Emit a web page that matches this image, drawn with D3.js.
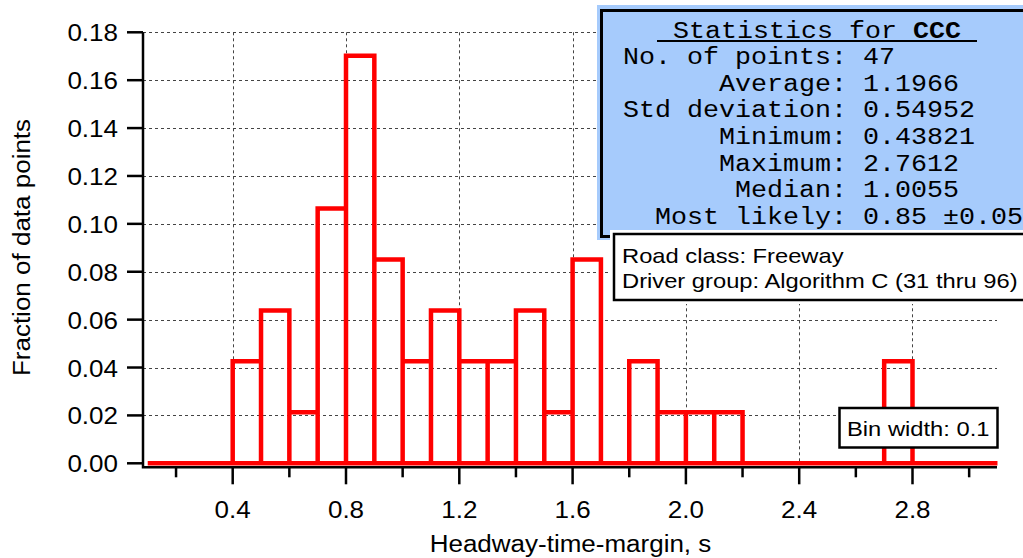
<!DOCTYPE html>
<html><head><meta charset="utf-8">
<script src="https://cdn.jsdelivr.net/npm/d3@7"></script>
<style>
html,body{margin:0;padding:0;background:#fff;}
svg{display:block;}
</style></head>
<body>
<svg id="chart" width="1023" height="558"></svg>
<script>
// ---- data ----
const binLeft = [0.1,0.2,0.3,0.4,0.5,0.6,0.7,0.8,0.9,1.0,1.1,1.2,1.3,1.4,1.5,1.6,1.7,1.8,1.9,2.0,2.1,2.2,2.3,2.4,2.5,2.6,2.7,2.8,2.9,3.0];
const binWidth = 0.1;
const fraction = [0,0,0,0.0426,0.0638,0.0213,0.1064,0.1702,0.0851,0.0426,0.0638,0.0426,0.0426,0.0638,0.0213,0.0851,0,0.0426,0.0213,0.0213,0.0213,0,0,0,0,0,0.0426,0,0,0];
const xTicks = [0.4,0.8,1.2,1.6,2.0,2.4,2.8];
const xMinorTicks = [0.2,0.6,1.0,1.4,1.8,2.2,2.6,3.0];
const yTicks = [0,0.02,0.04,0.06,0.08,0.10,0.12,0.14,0.16,0.18];
const xTitle = "Headway-time-margin, s";
const yTitle = "Fraction of data points";
const statsTitle = "Statistics for ";
const statsName = "CCC";
const statLabels = ["No. of points:","Average:","Std deviation:","Minimum:","Maximum:","Median:","Most likely:"];
const statValues = ["47","1.1966","0.54952","0.43821","2.7612","1.0055","0.85 \u00b10.05"];
const infoLines = ["Road class: Freeway","Driver group: Algorithm C (31 thru 96)"];
const binNote = "Bin width: 0.1";

// ---- setup ----
const svg = d3.select("#chart");
const SANS = "'Liberation Sans', Arial, Helvetica, sans-serif";
const MONO = "'Liberation Mono', 'Courier New', monospace";
const SX = 1.13;
function stretch(sel, k){
  sel.each(function(){
    const L = this.getComputedTextLength();
    d3.select(this).attr("textLength", L*k).attr("lengthAdjust","spacingAndGlyphs");
  });
}

const x = d3.scaleLinear().domain([0, 3.2]).range([119.4, 1025.8]);
const y = d3.scaleLinear().domain([0, 0.18]).range([463.3, 32.3]);
const axL = 143, axR = 997, axB = 467.3;

// grid
const grid = svg.append("g").attr("stroke","#444").attr("stroke-width",1).attr("stroke-dasharray","3,3").attr("fill","none");
grid.selectAll("line.h").data(yTicks.filter(d=>d>0)).join("line")
  .attr("x1",axL).attr("x2",axR).attr("y1",d=>Math.round(y(d))+0.5).attr("y2",d=>Math.round(y(d))+0.5);
grid.selectAll("line.v").data(xTicks).join("line")
  .attr("y1",y(0.18)).attr("y2",y(0)).attr("x1",d=>Math.round(x(d))+0.5).attr("x2",d=>Math.round(x(d))+0.5);

// histogram
let p = d3.path();
binLeft.forEach((b,i)=>{
  const x0 = x(b), x1 = x(b+binWidth), yv = y(fraction[i]);
  p.moveTo(x0, y(0)); p.lineTo(x0, yv); p.lineTo(x1, yv); p.lineTo(x1, y(0));
});
p.moveTo(x(binLeft[0]), y(0)); p.lineTo(x(binLeft[binLeft.length-1]+binWidth), y(0));
svg.append("path").attr("d", p.toString()).attr("fill","none").attr("stroke","#ff0000")
  .attr("stroke-width",4.5).attr("stroke-linejoin","miter");

// axes
const ax = svg.append("g").attr("stroke","#000").attr("stroke-width",2.5).attr("fill","none");
ax.append("path").attr("d",`M${axL},${y(0.18)}V${axB}H${axR}`).attr("stroke-linejoin","miter");
ax.selectAll("line.yt").data(yTicks).join("line")
  .attr("x1",axL-16).attr("x2",axL).attr("y1",d=>y(d)).attr("y2",d=>y(d));
ax.selectAll("line.xt").data(xTicks).join("line")
  .attr("y1",axB).attr("y2",axB+17).attr("x1",d=>x(d)).attr("x2",d=>x(d));
ax.selectAll("line.xm").data(xMinorTicks).join("line")
  .attr("y1",axB).attr("y2",axB+10).attr("x1",d=>x(d)).attr("x2",d=>x(d));

const yl = svg.append("g").selectAll("text").data(yTicks).join("text")
  .attr("x",118).attr("y",d=>y(d)+9).attr("text-anchor","end")
  .attr("font-family",SANS).attr("font-size",23).attr("fill","#000")
  .text(d=>d3.format(".2f")(d));
stretch(yl, SX);
const xl = svg.append("g").selectAll("text").data(xTicks).join("text")
  .attr("x",d=>x(d)).attr("y",518).attr("text-anchor","middle")
  .attr("font-family",SANS).attr("font-size",23).attr("fill","#000")
  .text(d=>d3.format(".1f")(d));
stretch(xl, SX);

const xt = svg.append("text").attr("x",570.5).attr("y",551.5).attr("text-anchor","middle")
  .attr("font-family",SANS).attr("font-size",23).text(xTitle);
stretch(xt, SX);
const yt = svg.append("text").attr("transform","translate(30,247.5) rotate(-90)").attr("text-anchor","middle")
  .attr("font-family",SANS).attr("font-size",23).text(yTitle);
stretch(yt, SX);

// stats box
const sb = svg.append("g");
sb.append("rect").attr("x",597).attr("y",5).attr("width",440).attr("height",235).attr("fill","#a6cbfc");
sb.append("rect").attr("x",601.5).attr("y",10.5).attr("width",440).attr("height",226)
  .attr("fill","none").attr("stroke","#000").attr("stroke-width",3);
const CW = 16;
sb.append("text").attr("x",673).attr("y",37.5).attr("font-family",MONO).attr("font-size",23)
  .attr("textLength",(statsTitle.length-1)*CW).attr("lengthAdjust","spacingAndGlyphs").text(statsTitle.trim());
sb.append("text").attr("x",673+statsTitle.length*CW).attr("y",37.5).attr("font-family",MONO).attr("font-size",23)
  .attr("font-weight","bold").attr("textLength",statsName.length*CW).attr("lengthAdjust","spacingAndGlyphs").text(statsName);
sb.append("line").attr("x1",657).attr("x2",977).attr("y1",41).attr("y2",41).attr("stroke","#000").attr("stroke-width",2);
statLabels.forEach((lab,i)=>{
  const by = 64 + 26.67*i;
  sb.append("text").attr("x",847 - lab.length*CW).attr("y",by).attr("font-family",MONO).attr("font-size",23)
    .attr("textLength",lab.length*CW).attr("lengthAdjust","spacingAndGlyphs").text(lab);
  const v = statValues[i];
  sb.append("text").attr("x",863).attr("y",by).attr("font-family",MONO).attr("font-size",23)
    .attr("textLength",v.length*CW).attr("lengthAdjust","spacingAndGlyphs").text(v);
});

// info box
const ib = svg.append("g");
ib.append("rect").attr("x",610).attr("y",230).attr("width",420).attr("height",74).attr("fill","#fff");
ib.append("rect").attr("x",614).attr("y",234).attr("width",420).attr("height",66)
  .attr("fill","#fff").attr("stroke","#000").attr("stroke-width",2.5);
const it = ib.selectAll("text").data(infoLines).join("text")
  .attr("x",622).attr("y",(d,i)=>263+25*i).attr("font-family",SANS).attr("font-size",21).text(d=>d);
stretch(it, SX);

// bin width box
const bb = svg.append("g");
bb.append("rect").attr("x",839.5).attr("y",408).attr("width",158).attr("height",39.5)
  .attr("fill","#fff").attr("stroke","#000").attr("stroke-width",2.5);
const bt = bb.append("text").attr("x",847).attr("y",436).attr("font-family",SANS).attr("font-size",21).text(binNote);
stretch(bt, SX);
</script>
</body></html>
